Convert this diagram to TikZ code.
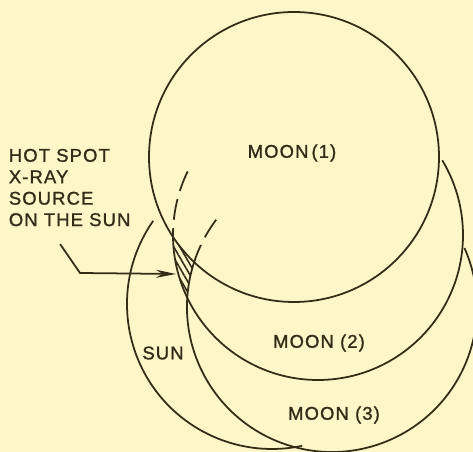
\documentclass[tikz,border=0pt]{standalone}
\usepackage{fontspec}
\newfontfamily\lettering{Liberation Sans}[LetterSpace=6, FakeBold=1.2]
\usetikzlibrary{arrows.meta, patterns.meta}

\definecolor{paper}{RGB}{253,246,200}
\definecolor{ink}{RGB}{52,44,22}
\newcommand{\moonr}{2.9}

\begin{document}
\begin{tikzpicture}[>=Stealth, line width=1pt, color=ink,
    lbl/.style={font=\lettering\fontsize{10.5}{12.2}\selectfont, inner sep=0pt},
    hidden/.style={dash pattern=on 0.42cm off 0.17cm}]

        % --- paper ---
        \fill[paper] (0,0) rectangle (9.46,9.04);
        \useasboundingbox (0,0) rectangle (9.46,9.04);

        % --- centres ---
        \coordinate (sun) at (5.44,2.96);
        \coordinate (moonA) at (5.88,5.90);
        \coordinate (moonB) at (6.36,4.34);
        \coordinate (moonC) at (6.64,2.90);

        % --- hot spot: covered by moon (2), free of moon (1) and (3) ---
        \begin{scope}
            \clip (0,0) rectangle (5,9.04);
            \clip (moonB) circle (\moonr);
            \clip (-1,-1) rectangle (11,10) (moonA) circle (\moonr);
            \clip (-1,-1) rectangle (11,10) (moonC) circle (\moonr);
            \fill[pattern={Lines[angle=-60, distance=3pt, line width=0.9pt]}, pattern color=ink]
                (moonB) circle (\moonr);
        \end{scope}

        % Sun
        \draw (sun) ++(145:\moonr) arc[start angle=145, end angle=282, radius=\moonr];

        % Moon (1)
        \draw (moonA) circle (\moonr);

        % Moon (2)
        \draw (moonB) ++(180.75:\moonr) arc[start angle=180.75, end angle=391, radius=\moonr];
        \draw[hidden] (moonB) ++(154:\moonr) arc[start angle=154, end angle=180.75, radius=\moonr];

        % Moon (3)
        \draw (moonC) ++(162:\moonr) arc[start angle=162, end angle=384, radius=\moonr];
        \draw[hidden] (moonC) ++(143:\moonr) arc[start angle=143, end angle=162, radius=\moonr];

        % Labels
        \node[lbl] (labA) at (5.84,5.98) {MOON\,(1)};
        \node[lbl] (labB) at (6.38,2.18) {MOON (2)};
        \node[lbl] (labC) at (6.68,0.74) {MOON (3)};
        \node[lbl] (labS) at (3.26,1.98) {SUN};
        \node[lbl, anchor=north west, align=left] (note) at (0.16,6.08)
            {HOT SPOT\\X-RAY\\SOURCE\\ON THE SUN};

        % Pointer to the hot spot
        \coordinate (knee) at (1.60,3.58);
        \coordinate (spot) at (3.52,3.56);
        \draw[-{Stealth[length=4mm, width=1.6mm]}]
            ([shift={(-0.19,-0.34)}]note.south) -- (knee) -- (spot);

\end{tikzpicture}
\end{document}
